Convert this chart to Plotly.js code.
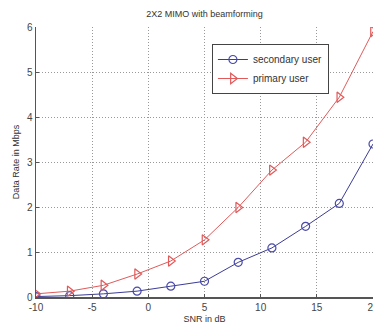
<!DOCTYPE html>
<html><head><meta charset="utf-8">
<script src="https://cdn.plot.ly/plotly-3.0.1.min.js"></script>
<style>html,body{margin:0;padding:0;background:#fff;}#chart{width:373px;height:327px;}</style>
</head><body><div id="chart"></div>
<script>
const snr = [-10, -7, -4, -1, 2, 5, 8, 11, 14, 17, 20];
const secondaryUser = [0.01, 0.03, 0.07, 0.13, 0.24, 0.35, 0.77, 1.09, 1.57, 2.08, 3.40];
const primaryUser = [0.07, 0.13, 0.26, 0.51, 0.80, 1.27, 1.99, 2.82, 3.44, 4.44, 5.90];
const xTicks = [-10, -5, 0, 5, 10, 15, 20];
const yTicks = [0, 1, 2, 3, 4, 5, 6];

const traces = [
  {x: snr, y: secondaryUser, name: 'secondary user', mode: 'lines+markers',
   line: {color: '#3c3c96', width: 1},
   marker: {symbol: 'circle-open', size: 8, color: '#4a4aa8', line: {width: 1.2}}},
  {x: snr, y: primaryUser, name: 'primary user', mode: 'lines+markers',
   line: {color: '#e05a5a', width: 1},
   marker: {symbol: 'triangle-right-open', size: 9, color: '#e05a5a', line: {width: 1.2}}}
];
const font = {family: 'Liberation Sans, Arial, sans-serif', size: 9, color: '#333'};
const layout = {
  width: 373, height: 327,
  margin: {l: 36, r: 0, t: 27, b: 30},
  paper_bgcolor: '#fff', plot_bgcolor: '#fff',
  font: font,
  title: {text: '2X2 MIMO with beamforming', font: {family: font.family, size: 9, color: '#333'}, x: 0.548, xanchor: 'center', y: 0.958, yanchor: 'middle'},
  xaxis: {range: [-10, 20], tickvals: xTicks, ticktext: xTicks.map(String),
    showgrid: true, gridcolor: '#999', griddash: '1px,2px', gridwidth: 1,
    showline: true, linecolor: '#555', linewidth: 1.5, mirror: false,
    ticks: 'inside', ticklen: 3, tickcolor: '#555', zeroline: false,
    ticklabeloverflow: 'allow',
    tickfont: {family: font.family, size: 10, color: '#444'},
    title: {text: 'SNR in dB', font: {family: font.family, size: 9, color: '#333'}, standoff: 4}},
  yaxis: {range: [0, 6], tickvals: yTicks, ticktext: yTicks.map(String),
    showgrid: true, gridcolor: '#999', griddash: '1px,2px', gridwidth: 1,
    showline: true, linecolor: '#555', linewidth: 1.5, mirror: false,
    ticks: 'inside', ticklen: 3, tickcolor: '#555', zeroline: false,
    tickfont: {family: font.family, size: 10, color: '#444'},
    title: {text: 'Data Rate in Mbps', font: {family: font.family, size: 9, color: '#333'}, standoff: 6}},
  legend: {x: 0.522, y: 0.937, xanchor: 'left', yanchor: 'top',
    bgcolor: '#fff', bordercolor: '#444', borderwidth: 1,
    font: {family: font.family, size: 10, color: '#333'}, tracegroupgap: 0},
  showlegend: true
};
Plotly.newPlot('chart', traces, layout, {displayModeBar: false, staticPlot: true});
</script>
</body></html>
